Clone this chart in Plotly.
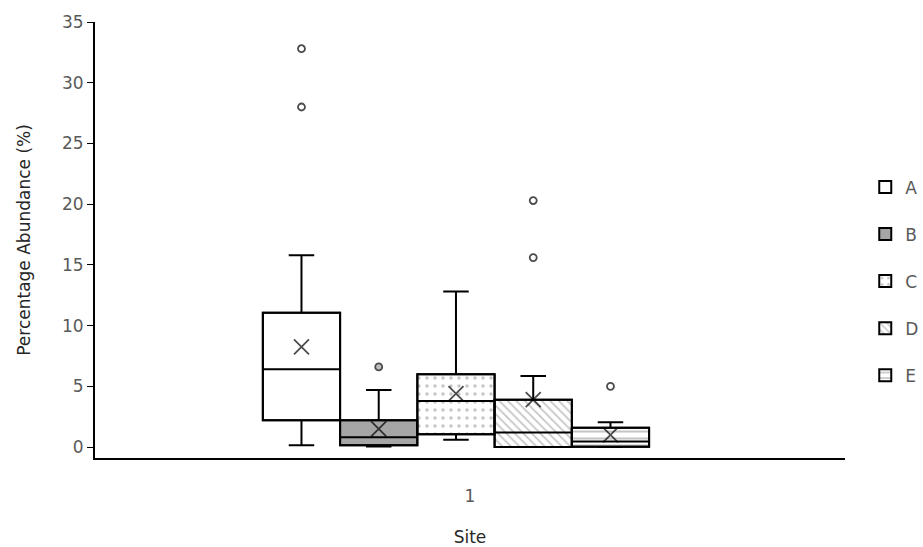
import plotly.graph_objects as go

# Box statistics per group (percentage abundance)
groups = ["A", "B", "C", "D", "E"]
site = "1"
q1 = [2.2, 0.15, 1.05, 0.0, 0.02]
median = [6.4, 0.8, 3.8, 1.2, 0.45]
q3 = [11.05, 2.2, 6.0, 3.9, 1.6]
lower_whisker = [0.15, 0.05, 0.6, 0.0, 0.0]
upper_whisker = [15.8, 4.7, 12.8, 5.85, 2.05]
means = [8.25, 1.5, 4.4, 3.9, 1.0]
outliers = [[32.8, 28.0], [6.6], [], [20.3, 15.6], [5.0]]

# Fill styles for each group
fill_colors = ["white", "#a6a6a6", "white", "white", "white"]
patterns = [
    dict(shape=""),
    dict(shape=""),
    dict(shape=".", fgcolor="#8c8c8c", size=8, solidity=0.15),
    dict(shape="\\", fgcolor="#8c8c8c", size=6, solidity=0.3),
    dict(shape="-", fgcolor="#8c8c8c", size=7, solidity=0.3),
]
outlier_fill = ["white", "#a6a6a6", "white", "white", "white"]

GAP = 0.485
fig = go.Figure()

# Patterned box bodies (q1..q3) drawn as grouped bars; these also carry the legend
for i, g in enumerate(groups):
    fig.add_trace(go.Bar(
        x=[site], y=[q3[i] - q1[i]], base=[q1[i]], name=g,
        marker=dict(color=fill_colors[i], pattern=patterns[i],
                    line=dict(color="black", width=2)),
        legendgroup=g, showlegend=True, hoverinfo="skip",
    ))

# Whiskers, median and box outline
for i, g in enumerate(groups):
    fig.add_trace(go.Box(
        x=[site], q1=[q1[i]], median=[median[i]], q3=[q3[i]],
        lowerfence=[lower_whisker[i]], upperfence=[upper_whisker[i]],
        name=g, legendgroup=g, showlegend=False,
        fillcolor="rgba(0,0,0,0)", line=dict(color="black", width=2),
        whiskerwidth=0.33, boxpoints=False,
    ))

# Mean (x) and outlier (o) markers
for i, g in enumerate(groups):
    ys = [means[i]] + outliers[i]
    symbols = ["x-thin-open"] + ["circle"] * len(outliers[i])
    sizes = [15] + [7] * len(outliers[i])
    colors = ["black"] + [outlier_fill[i]] * len(outliers[i])
    fig.add_trace(go.Scatter(
        x=[site] * len(ys), y=ys, mode="markers", name=g,
        legendgroup=g, showlegend=False,
        marker=dict(symbol=symbols, size=sizes, color=colors,
                    line=dict(color="black", width=1.8)),
    ))

fig.update_layout(
    width=923, height=547,
    margin=dict(l=95, r=78, t=22, b=89, autoexpand=False),
    paper_bgcolor="white", plot_bgcolor="white",
    barmode="group", bargap=GAP, bargroupgap=0,
    boxmode="group", boxgap=GAP, boxgroupgap=0,
    scattermode="group", scattergap=GAP,
    font=dict(family="DejaVu Sans", size=17, color="#595959"),
    legend=dict(x=1.027, y=0.662, xanchor="left", yanchor="top",
                traceorder="grouped", tracegroupgap=22,
                font=dict(size=17, color="#595959"),
                itemwidth=30),
    showlegend=True,
)

# The box group sits slightly left of the axis centre; the tick label stays centred
fig.update_xaxes(
    type="category", range=[-0.5 + 0.0187, 0.5 + 0.0187],
    showline=True, linecolor="black", linewidth=2,
    showgrid=False, zeroline=False, ticks="",
    ticklabelstandoff=22, ticklabelshift=14,
    title=dict(text="Site", standoff=27, font=dict(size=17, color="#262626")),
)
fig.update_yaxes(
    range=[-0.9, 35], tickvals=[0, 5, 10, 15, 20, 25, 30, 35],
    showline=True, linecolor="black", linewidth=2,
    showgrid=False, zeroline=False,
    ticks="outside", ticklen=6, tickcolor="black", tickwidth=1,
    title=dict(text="Percentage Abundance (%)", standoff=27,
               font=dict(size=17, color="#262626")),
)

fig.write_html("out.html")
